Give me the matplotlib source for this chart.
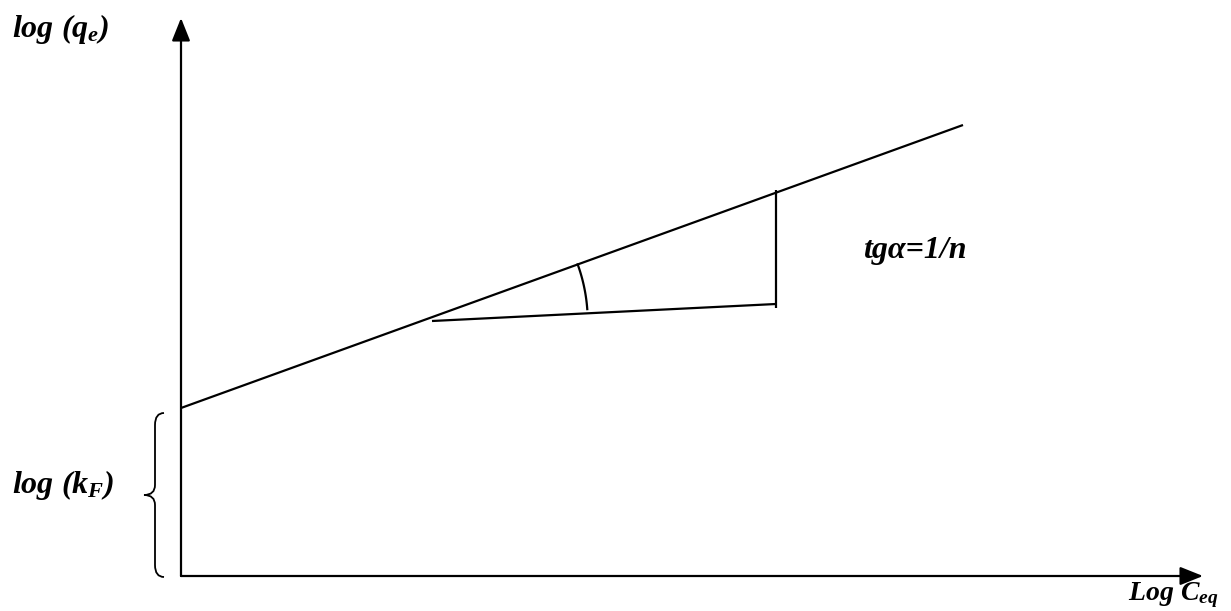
import numpy as np
import matplotlib
matplotlib.use("Agg")
import matplotlib.pyplot as plt
from matplotlib.path import Path
from matplotlib.patches import PathPatch

plt.rcParams['mathtext.fontset'] = 'custom'
plt.rcParams['mathtext.rm'] = 'Liberation Serif:bold:italic'
plt.rcParams['mathtext.it'] = 'Liberation Serif:bold:italic'
plt.rcParams['mathtext.bf'] = 'Liberation Serif:bold:italic'

# scheme geometry (canvas units, y grows downward)
origin = (181, 576)
y_axis_tip = (181, 18)
x_axis_tip = (1203, 576)
isotherm_x = [181, 963]
isotherm_y = [408, 125]
base_x = [432, 776]
base_y = [321, 304]
side_x = [776, 776]
side_y = [190, 308]
brace_top, brace_bottom = 413, 577

fig = plt.figure(figsize=(12.31, 6.11), dpi=100)
ax = fig.add_axes([0, 0, 1, 1])
ax.set_xlim(0, 1231)
ax.set_ylim(611, 0)
ax.axis('off')

lw = 1.6
arrow = dict(arrowstyle='-|>,head_length=0.5,head_width=0.2', mutation_scale=28,
             lw=lw, color='black', shrinkA=0, shrinkB=0)
ax.annotate('', xy=y_axis_tip, xytext=origin, arrowprops=arrow)
ax.annotate('', xy=x_axis_tip, xytext=origin, arrowprops=arrow)

ax.plot(isotherm_x, isotherm_y, color='black', lw=lw, solid_capstyle='butt')
ax.plot(base_x, base_y, color='black', lw=lw, solid_capstyle='butt')
ax.plot(side_x, side_y, color='black', lw=lw, solid_capstyle='butt')

# angle arc between the two lines, centred at their intersection
k1 = (isotherm_y[1] - isotherm_y[0]) / (isotherm_x[1] - isotherm_x[0])
k2 = (base_y[1] - base_y[0]) / (base_x[1] - base_x[0])
cx = (base_y[0] - k2 * base_x[0] - isotherm_y[0] + k1 * isotherm_x[0]) / (k1 - k2)
cy = isotherm_y[0] + k1 * (cx - isotherm_x[0])
a1 = np.arctan(k1)
a2 = np.arctan(k2) - 0.025
t = np.linspace(a1, a2, 60)
r = 168
ax.plot(cx + r * np.cos(t), cy + r * np.sin(t), color='black', lw=lw)

# curly brace marking the intercept
xb, xm, xt = 164, 155, 144
ym = (brace_top + brace_bottom) / 2
verts = [(xb, brace_top), (xm, brace_top), (xm, brace_top + 12),
         (xm, ym - 10),
         (xm, ym), (xt, ym),
         (xm, ym), (xm, ym + 10),
         (xm, brace_bottom - 12),
         (xm, brace_bottom), (xb, brace_bottom)]
codes = [Path.MOVETO, Path.CURVE3, Path.CURVE3,
         Path.LINETO,
         Path.CURVE3, Path.CURVE3,
         Path.CURVE3, Path.CURVE3,
         Path.LINETO,
         Path.CURVE3, Path.CURVE3]
ax.add_patch(PathPatch(Path(verts, codes), fill=False, lw=1.3, color='black'))

fs = 23
ax.text(12, 37, r'$log\ (q_e)$', fontsize=fs, ha='left', va='baseline')
ax.text(12, 493, r'$log\ (k_F)$', fontsize=fs, ha='left', va='baseline')
ax.text(863, 258, 'tgα=1/n', fontsize=fs, ha='left', va='baseline',
        family='Liberation Serif', weight='bold', style='italic')
ax.text(1128, 610, r'$Log\ C_{eq}$', fontsize=20, ha='left', va='bottom')

fig.savefig('out.png', dpi=100)
